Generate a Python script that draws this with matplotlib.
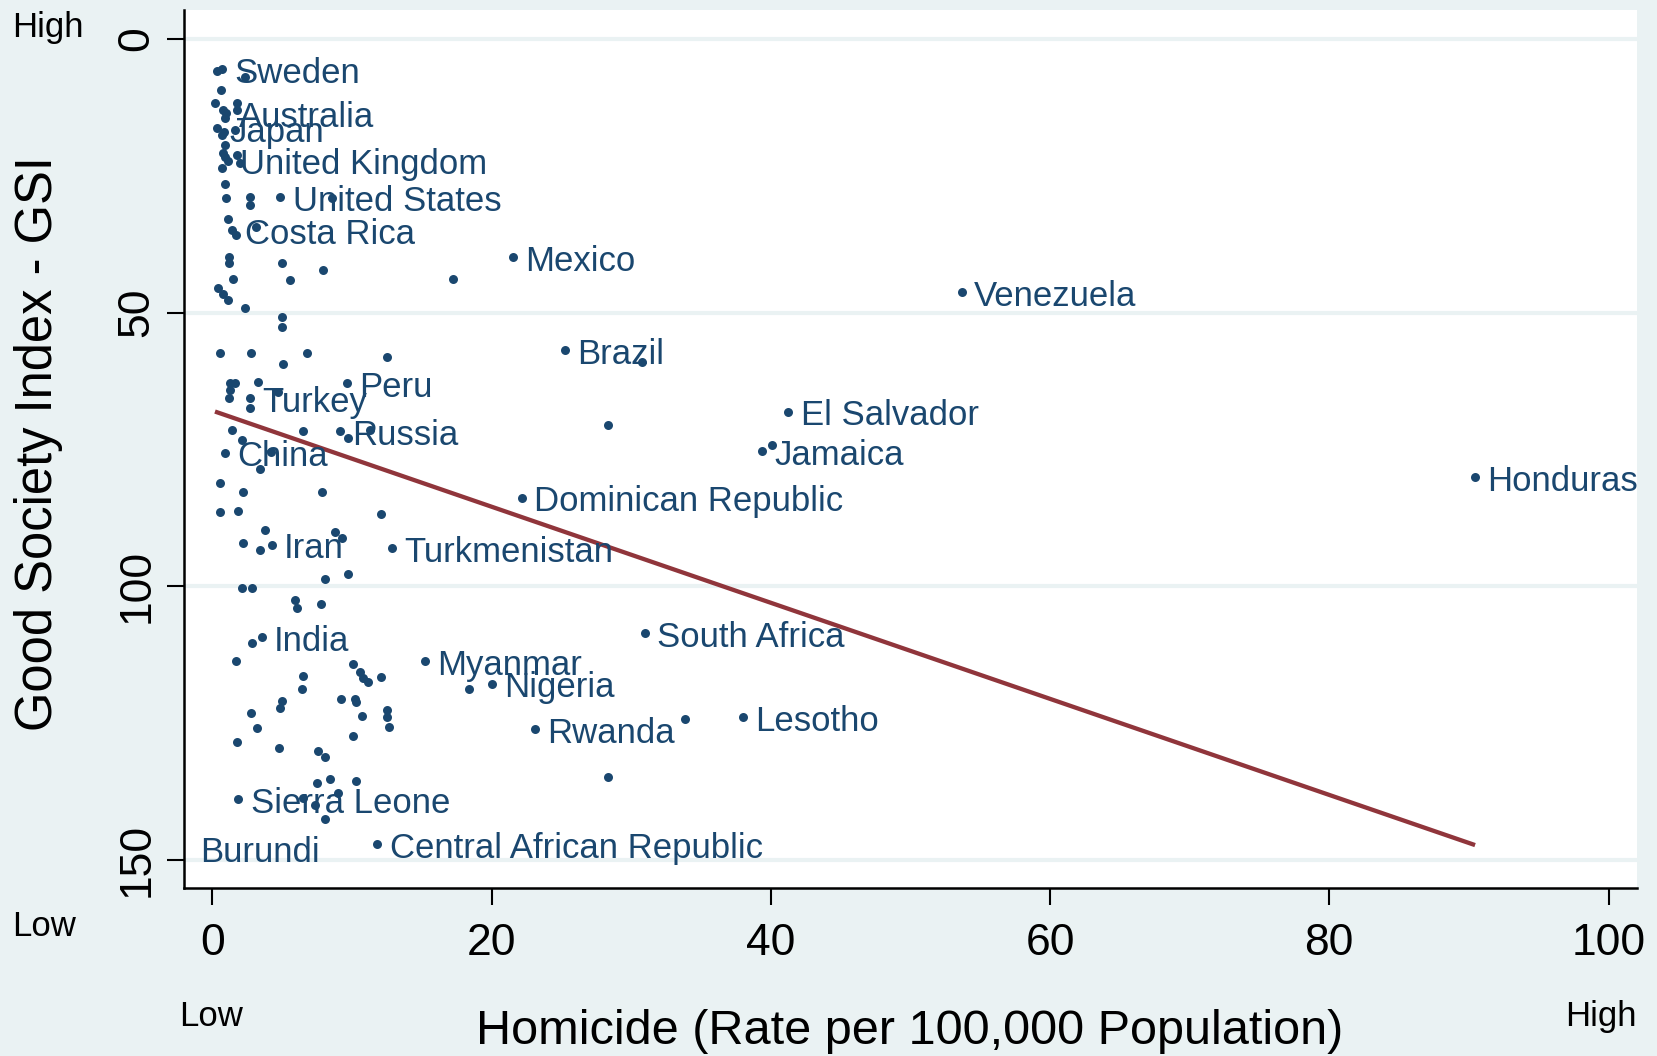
import numpy as np
import matplotlib.pyplot as plt

plt.rcParams['font.family'] = ['Liberation Sans', 'DejaVu Sans']

# labelled countries: homicide rate per 100,000 and GSI rank
names = ['Sweden', 'Australia', 'Japan', 'United Kingdom', 'United States',
         'Costa Rica', 'Mexico', 'Venezuela', 'Brazil', 'Peru', 'Turkey',
         'Russia', 'China', 'Jamaica', 'El Salvador', 'Honduras',
         'Dominican Republic', 'Iran', 'Turkmenistan', 'India', 'South Africa',
         'Myanmar', 'Nigeria', 'Lesotho', 'Rwanda', 'Sierra Leone',
         'Central African Republic']
homicide = [0.66, 1.0, 0.3, 1.1, 4.85,
            1.4, 21.5, 53.67, 25.25, 9.61, 2.69,
            9.13, 0.9, 39.34, 41.25, 90.44,
            22.15, 4.24, 12.84, 3.52, 30.98,
            15.22, 20.0, 38.0, 23.1, 1.85,
            11.8]
gsi = [5.5, 13.6, 16.3, 22.2, 28.9,
       34.9, 39.9, 46.2, 56.8, 62.9, 65.6,
       71.7, 75.6, 75.3, 68.1, 80.0,
       83.8, 92.4, 93.0, 109.3, 108.5,
       113.6, 117.8, 123.9, 126.1, 138.9,
       147.1]

# remaining countries (no label)
other_homicide = [0.3, 2.3, 0.59, 0.18, 0.78, 1.73, 1.73, 0.9, 0.85, 1.6, 0.66, 0.9,
                  0.78, 0.9, 1.73, 1.97, 0.66, 0.9, 1.0, 2.7, 2.7, 8.54, 1.13, 3.1,
                  1.2, 1.2, 4.96, 7.94, 5.55, 17.2, 1.45, 0.42, 0.78, 1.13, 2.33,
                  5.0, 5.0,
                  0.54, 2.76, 5.08, 6.75, 12.5, 30.74,
                  1.25, 1.61, 3.28, 1.25, 1.2, 4.7, 2.69,
                  9.73, 11.3, 6.5, 1.37, 2.09, 28.35, 40.06, 4.2,
                  3.4, 0.54, 2.2, 7.82, 0.54, 1.85, 12.1,
                  3.76, 2.2, 3.4, 8.78, 9.26,
                  8.06, 9.73, 2.09, 2.81, 5.9, 6.03, 7.75,
                  2.81, 1.68, 10.04, 10.6, 10.76, 11.16, 12.05, 6.5, 6.43, 9.18,
                  10.2, 10.28, 4.96, 4.84, 2.76, 3.21, 10.73, 12.48, 12.48, 12.67,
                  1.78, 4.74, 10.04, 7.58, 8.06, 8.42, 7.51, 10.28, 9.0, 7.34,
                  6.5, 8.06,
                  18.4, 33.85, 28.35, 1.68]
other_gsi = [5.8, 7.0, 9.4, 11.7, 13.0, 11.7, 13.0, 14.5, 16.9, 16.6, 17.5, 19.4,
             20.9, 21.5, 21.2, 22.7, 23.6, 26.4, 29.1, 28.8, 30.3, 29.1, 32.8, 34.3,
             39.8, 41.0, 41.0, 42.2, 44.0, 43.9, 43.9, 45.5, 46.6, 47.6, 49.1,
             50.7, 52.7,
             57.4, 57.4, 59.4, 57.4, 58.1, 59.0,
             62.9, 62.8, 62.6, 64.1, 65.6, 64.4, 67.5,
             72.8, 71.4, 71.6, 71.4, 73.3, 70.5, 74.2, 75.5,
             78.6, 81.1, 82.7, 82.7, 86.5, 86.2, 86.8,
             89.7, 92.1, 93.4, 90.0, 91.2,
             98.7, 97.8, 100.3, 100.3, 102.4, 104.0, 103.2,
             110.4, 113.6, 114.1, 115.6, 116.8, 117.4, 116.6, 116.4, 118.8, 120.6,
             120.6, 121.2, 120.9, 122.3, 123.1, 125.8, 123.7, 122.5, 123.8, 125.6,
             128.4, 129.5, 127.3, 130.1, 131.2, 135.2, 136.0, 135.5, 137.8, 139.9,
             138.7, 142.5,
             118.8, 124.2, 134.9, 35.8]

burundi_pos = (3.4, 148.6)

# linear fit of GSI on homicide
fit_intercept = 67.9
fit_slope = 0.8775

navy = '#1a476f'
maroon = '#90353b'
bg = '#eaf2f3'

fig = plt.figure(figsize=(16.57, 10.56), dpi=100, facecolor=bg)
ax = fig.add_axes([184 / 1657, 1 - 888 / 1056, 1453 / 1657, 878 / 1056])
ax.set_facecolor('white')

all_x = np.array(homicide + other_homicide)
ax.scatter(other_homicide, other_gsi, s=42, color=navy, linewidths=0, zorder=3)
ax.scatter(homicide, gsi, s=42, color=navy, linewidths=0, zorder=3)

xf = np.array([all_x.min(), all_x.max()])
ax.plot(xf, fit_intercept + fit_slope * xf, color=maroon, lw=3.1, zorder=2,
        solid_capstyle='butt')

for name, x, y in zip(names, homicide, gsi):
    ax.annotate(name, (x, y), xytext=(9, -3), textcoords='offset points',
                va='center', ha='left', fontsize=25, color=navy, zorder=4)
ax.text(burundi_pos[0], burundi_pos[1], 'Burundi', ha='center', va='center',
        fontsize=25, color=navy, zorder=4)

ax.set_xlim(-2.04, 102.04)
ax.set_ylim(155.1, -5.3)
ax.set_xticks([0, 20, 40, 60, 80, 100])
ax.set_yticks([0, 50, 100, 150])
ax.set_yticklabels(['0', '50', '100', '150'], rotation=90, va='center')
ax.tick_params(labelsize=32, length=12, width=1.5, pad=7, color='black')
ax.tick_params(axis='x', pad=13)
ax.grid(axis='y', color=bg, lw=3)
ax.set_axisbelow(True)

for side in ['top', 'right']:
    ax.spines[side].set_visible(False)
for side in ['left', 'bottom']:
    ax.spines[side].set_linewidth(1.8)

fig.text(910 / 1657, 1 - 1031 / 1056, 'Homicide (Rate per 100,000 Population)',
         ha='center', va='center', fontsize=35)
fig.text(39 / 1657, 1 - 444 / 1056, 'Good Society Index - GSI', rotation=90,
         ha='center', va='center', fontsize=36.5)
fig.text(47.6 / 1657, 1 - 28 / 1056, 'High', ha='center', va='center', fontsize=25)
fig.text(44.4 / 1657, 1 - 926.5 / 1056, 'Low', ha='center', va='center', fontsize=25)
fig.text(211 / 1657, 1 - 1016.5 / 1056, 'Low', ha='center', va='center', fontsize=25)
fig.text(1601 / 1657, 1 - 1016.5 / 1056, 'High', ha='center', va='center', fontsize=25)

fig.savefig('out.png', dpi=100, facecolor=bg)
